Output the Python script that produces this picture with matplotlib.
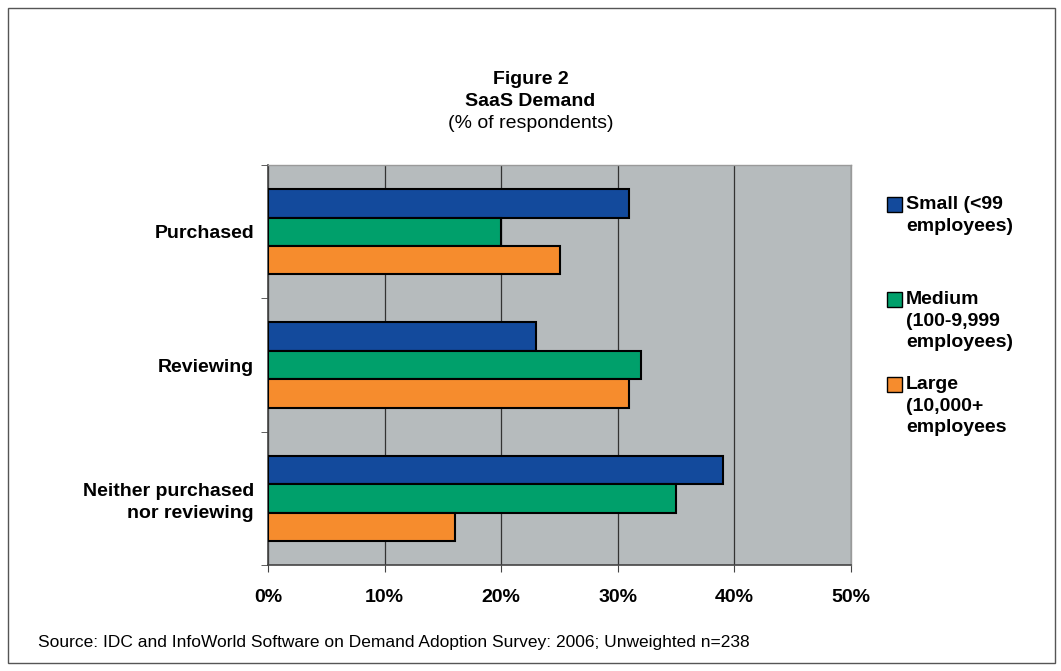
import matplotlib.pyplot as plt
from matplotlib.patches import Rectangle
import numpy as np

categories = ['Purchased', 'Reviewing', 'Neither purchased\nnor reviewing']
series = ['Small (<99\nemployees)', 'Medium\n(100-9,999\nemployees)', 'Large\n(10,000+\nemployees']
small = [31, 23, 39]
medium = [20, 32, 35]
large = [25, 31, 16]
xticks = [0, 10, 20, 30, 40, 50]

colors = ['#134A9C', '#00A06B', '#F68C2D']

plt.rcParams['font.family'] = ['Liberation Sans', 'DejaVu Sans']
FS = 14

fig = plt.figure(figsize=(10.61, 6.71), dpi=100)
# outer frame
fig.patches.append(Rectangle((0.008, 0.012), 0.986, 0.976, transform=fig.transFigure,
                             fill=False, edgecolor='#555555', linewidth=1.0))

ax = fig.add_axes([0.2526, 0.158, 0.5495, 0.596])
ax.set_facecolor('#B6BBBD')

y = np.arange(len(categories))
h = 0.213
for i, vals in enumerate([small, medium, large]):
    ax.barh(y + (i - 1) * h, vals, height=h, color=colors[i], edgecolor='black',
            linewidth=1.5, zorder=3)

ax.set_xlim(0, 50)
ax.set_ylim(2.5, -0.5)
ax.set_xticks(xticks)
ax.set_xticklabels([f'{v}%' for v in xticks], fontsize=FS, fontweight='bold')
ax.xaxis.grid(True, color='#333333', linewidth=0.9, zorder=1)
ax.set_axisbelow(True)

ax.set_yticks(y)
ax.set_yticklabels(categories, fontsize=FS, fontweight='bold', ha='right',
                   linespacing=1.35)
ax.tick_params(axis='y', length=0, pad=10)
ax.set_yticks([-0.5, 0.5, 1.5, 2.5], minor=True)
ax.tick_params(axis='y', which='minor', length=5, color='#444444')
ax.tick_params(axis='x', length=5, color='#444444', pad=12)

for s in ['left', 'bottom']:
    ax.spines[s].set_color('#444444')
    ax.spines[s].set_linewidth(1.2)
for s in ['top', 'right']:
    ax.spines[s].set_color('#9A9A9A')
    ax.spines[s].set_linewidth(1.0)

# legend
leg_y = [204, 299, 384]
for i, lab in enumerate(series):
    fy = 1 - leg_y[i] / 671
    fig.patches.append(Rectangle((887 / 1061, fy - 0.0115), 0.0138, 0.022,
                                 transform=fig.transFigure, facecolor=colors[i],
                                 edgecolor='black', linewidth=1.0))
    fig.text(906 / 1061, fy + 0.0125, lab, fontsize=FS, fontweight='bold',
             va='top', ha='left', linespacing=1.38)

fig.text(0.5, 1 - 80 / 671, 'Figure 2', ha='center', va='center', fontsize=FS, fontweight='bold')
fig.text(0.5, 1 - 101 / 671, 'SaaS Demand', ha='center', va='center', fontsize=FS, fontweight='bold')
fig.text(0.5, 1 - 123 / 671, '(% of respondents)', ha='center', va='center', fontsize=FS)

fig.text(38 / 1061, 1 - 643 / 671,
         'Source: IDC and InfoWorld Software on Demand Adoption Survey: 2006; Unweighted n=238',
         ha='left', va='center', fontsize=12.5)

fig.savefig('out.png', dpi=100)
